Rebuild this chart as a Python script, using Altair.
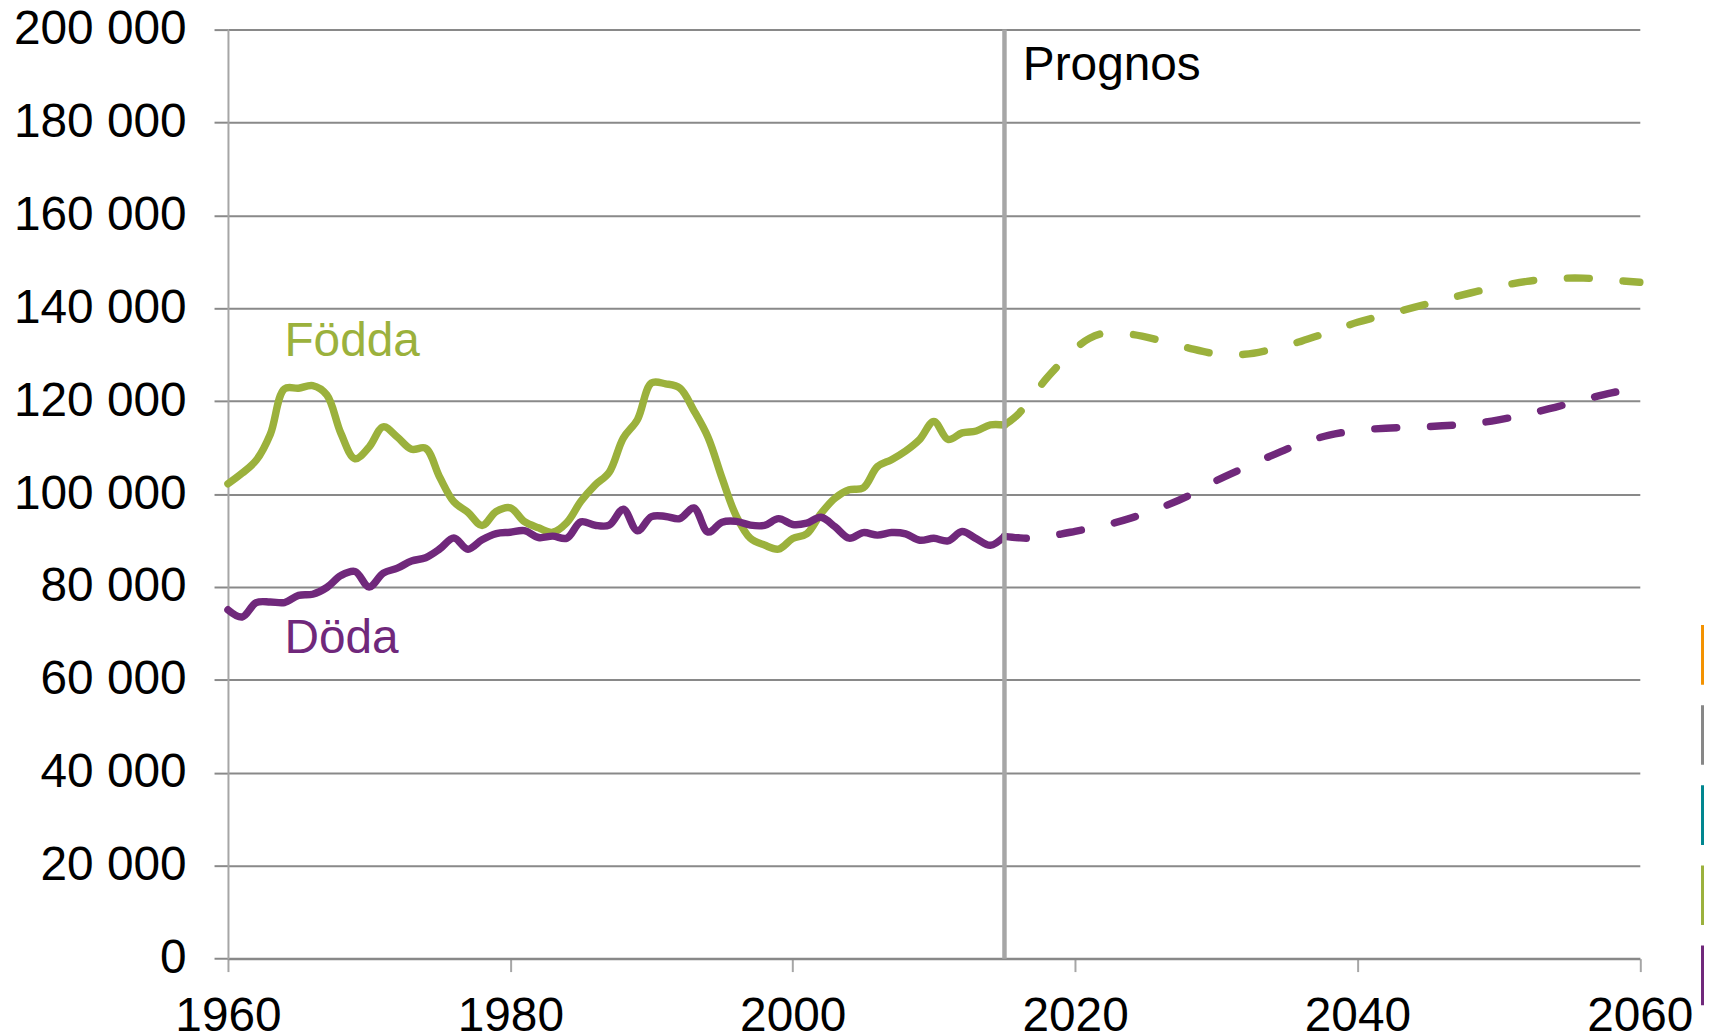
import altair as alt
import pandas as pd

# ---- data ----
years_actual = list(range(1960, 2016))
fodda_actual = [102219, 104501, 107284, 112903, 122664, 122806, 123354, 121360, 113087, 107622,
                110150, 114484, 112273, 109663, 109874, 103632, 98345, 96057, 93248, 96255,
                97064, 94065, 92748, 91780, 93871, 98463, 101950, 104699, 112080, 116023,
                123938, 123737, 122848, 117998, 112257, 103422, 95297, 90502, 89028, 88173,
                90441, 91466, 95815, 99157, 100928, 101346, 105913, 107421, 109301, 111801,
                115641, 111770, 113177, 113593, 114907, 114870]
doda_actual = [75107, 73555, 76639, 76789, 76660, 78194, 78450, 79899, 82469, 83349,
               80026, 82990, 84066, 85594, 86316, 88208, 90568, 88139, 90176, 91514,
               91800, 92146, 90654, 90958, 90524, 94032, 93295, 93307, 96743, 92110,
               95161, 95202, 94710, 97008, 91844, 93955, 94133, 93326, 93271, 94726,
               93461, 93752, 95009, 92961, 90532, 91710, 91177, 91729, 91449, 90080,
               90487, 89938, 91938, 90402, 88976, 90907]

years_prog = [2015, 2016, 2017, 2018, 2019, 2020, 2021, 2022, 2024, 2026, 2028, 2030, 2032, 2034,
              2036, 2038, 2040, 2042, 2044, 2046, 2048, 2050, 2052, 2054, 2056, 2058, 2060]
fodda_prog = [114870, 117300, 121200, 125000, 128300, 131300, 133500, 134600, 134400, 133100,
              131500, 130200, 130100, 131200, 132900, 134900, 137000, 138600, 140200, 141800,
              143300, 144700, 145800, 146400, 146500, 146100, 145600]
doda_prog = [90907, 90600, 90500, 90900, 91400, 92000, 92600, 93200, 94900, 97000,
             99600, 102900, 105700, 108400, 110900, 112700, 113700, 114200, 114400, 114700,
             115100, 116000, 117200, 118700, 120300, 121800, 122900]

legend_names = ["Invandrade", "Utvandrade", "Flyttningsnetto", "Födda", "Döda"]
legend_colors = ["#f39200", "#878787", "#00868f", "#9bb13c", "#70287b"]

label_text = ["Födda", "Döda", "Prognos"]
label_year = [1964, 1964, 2016.3]
label_value = [129700, 65800, 189100]
label_color = ["#9bb13c", "#70287b", "#000000"]

x_ticks = [1960, 1980, 2000, 2020, 2040, 2060]
y_ticks = list(range(0, 200001, 20000))
prognos_year = [2015]
rule_from = [0]
rule_to = [200000]

FONT = "Liberation Sans"

rows = []
for yr, v in zip(years_actual, fodda_actual):
    rows.append({"year": yr, "value": v, "serie": "Födda", "kind": "Utfall"})
for yr, v in zip(years_actual, doda_actual):
    rows.append({"year": yr, "value": v, "serie": "Döda", "kind": "Utfall"})
for yr, v in zip(years_prog, fodda_prog):
    rows.append({"year": yr, "value": v, "serie": "Födda", "kind": "Prognos"})
for yr, v in zip(years_prog, doda_prog):
    rows.append({"year": yr, "value": v, "serie": "Döda", "kind": "Prognos"})
df = pd.DataFrame(rows)

labels_df = pd.DataFrame({"year": label_year, "value": label_value,
                          "text": label_text, "col": label_color})
rule_df = pd.DataFrame({"year": prognos_year, "value": rule_from, "value2": rule_to})

x_enc = alt.X("year:Q",
              scale=alt.Scale(domain=[1960, 2060], nice=False, zero=False),
              axis=alt.Axis(values=x_ticks, format="d", title=None, grid=False,
                            tickSize=13, tickWidth=2, tickColor="#a6a6a6",
                            domainColor="#898989", domainWidth=2,
                            labelFontSize=48, labelFont=FONT, labelColor="#000000",
                            labelPadding=21, labelFlush=False, labelOverlap=False))
y_enc = alt.Y("value:Q",
              scale=alt.Scale(domain=[0, 200000], nice=False),
              axis=alt.Axis(values=y_ticks, title=None,
                            labelExpr="replace(format(datum.value, ','), ',', ' ')",
                            grid=True, gridColor="#898989", gridWidth=2,
                            tickSize=14, tickWidth=2, tickColor="#898989",
                            domainColor="#a6a6a6", domainWidth=2,
                            labelFontSize=48, labelFont=FONT, labelColor="#000000",
                            labelPadding=28, labelOverlap=False))

legend = alt.Legend(orient="none", legendX=1450, legendY=596.7, title=None,
                    symbolType="M0,-1L0,1", symbolSize=3600, symbolStrokeWidth=3,
                    symbolDash=[1, 0], rowPadding=7.5, padding=0, symbolOffset=0,
                    labelFontSize=12, labelFont=FONT, labelColor="#000000")
color_enc = alt.Color("serie:N", scale=alt.Scale(domain=legend_names, range=legend_colors),
                      legend=legend)

base = alt.Chart(df)
actual = base.transform_filter(alt.datum.kind == "Utfall").mark_line(
    strokeWidth=7.5, interpolate="catmull-rom", strokeCap="round", strokeJoin="round"
).encode(x=x_enc, y=y_enc, color=color_enc)

prog = base.transform_filter(alt.datum.kind == "Prognos").mark_line(
    strokeWidth=7.5, interpolate="catmull-rom", strokeCap="round", strokeDash=[22, 34]
).encode(x=x_enc, y=y_enc, color=color_enc)

rule = alt.Chart(rule_df).mark_rule(color="#a6a6a6", strokeWidth=4.5).encode(
    x=x_enc, y=y_enc, y2="value2:Q")

texts = alt.Chart(labels_df).mark_text(
    align="left", baseline="alphabetic", font=FONT, fontSize=48
).encode(x=x_enc, y=y_enc, text="text:N", fill=alt.Fill("col:N", scale=None))

chart = alt.layer(actual, prog, rule, texts).properties(
    width=1418.5, height=933.4,
    padding={"left": 221, "top": 19.3, "right": 64.5, "bottom": 75.3},
    autosize=alt.AutoSizeParams(type="none"),
).configure_view(stroke=None)

chart.save("out.html", embed_options={"renderer": "svg", "actions": False})
